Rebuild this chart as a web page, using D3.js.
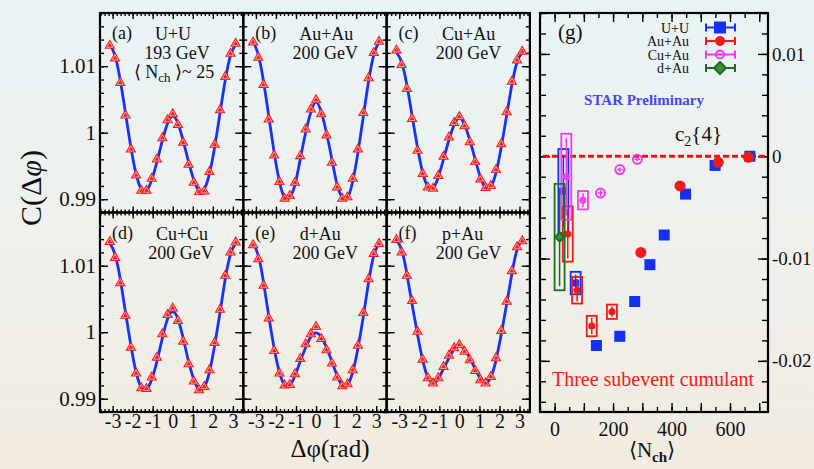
<!DOCTYPE html>
<html>
<head>
<meta charset="utf-8">
<script src="https://cdn.jsdelivr.net/npm/d3@7"></script>
<style>
body { margin: 0; }
svg { display: block; font-family: "Liberation Serif", "Times New Roman", serif; }
</style>
</head>
<body>
<svg id="chart" width="814" height="469"></svg>
<script>
// Delta phi bin centres (rad), shared by all six correlation panels
const dphi = [-3.14, -2.88, -2.62, -2.36, -2.09, -1.83, -1.57, -1.31, -1.05, -0.79, -0.52, -0.26, 0,
              0.26, 0.52, 0.79, 1.05, 1.31, 1.57, 1.83, 2.09, 2.36, 2.62, 2.88, 3.14];

// C(dphi) points (triangles) and fit curve (blue) for each system
const dataUU   = [1.0131, 1.0112, 1.0075, 1.0026, 0.9975, 0.9936, 0.9913, 0.9913, 0.9931, 0.9960, 0.9992, 1.0019, 1.0028, 1.0012, 0.9985, 0.9952, 0.9925, 0.9911, 0.9912, 0.9941, 0.9982, 1.0034, 1.0084, 1.0119, 1.0134];
const fitUU    = [1.0133, 1.0116, 1.0079, 1.0030, 0.9978, 0.9938, 0.9915, 0.99125, 0.9929, 0.9956, 0.9988, 1.0014, 1.0025, 1.0014, 0.9988, 0.9956, 0.9929, 0.99125, 0.9915, 0.9938, 0.9978, 1.0030, 1.0079, 1.0116, 1.0133];
const dataAuAu = [1.0136, 1.0113, 1.0072, 1.0020, 0.9966, 0.9926, 0.9901, 0.9905, 0.9925, 0.9965, 1.0005, 1.0035, 1.0049, 1.0028, 0.9996, 0.9955, 0.9918, 0.9901, 0.9903, 0.9931, 0.9975, 1.0030, 1.0082, 1.0120, 1.0137];
const fitAuAu  = [1.0137, 1.0117, 1.0077, 1.0025, 0.9970, 0.9927, 0.9902, 0.9903, 0.9922, 0.9960, 1.0000, 1.0031, 1.0046, 1.0031, 1.0000, 0.9960, 0.9922, 0.9903, 0.9902, 0.9927, 0.9970, 1.0025, 1.0077, 1.0117, 1.0137];
const dataCuAu = [1.0124, 1.0102, 1.0066, 1.0021, 0.9973, 0.9938, 0.9918, 0.9916, 0.9935, 0.9964, 0.9993, 1.0015, 1.0024, 1.0010, 0.9986, 0.9956, 0.9930, 0.9917, 0.9920, 0.9944, 0.9983, 1.0031, 1.0077, 1.0109, 1.0122];
const fitCuAu  = [1.0121, 1.0106, 1.0072, 1.0026, 0.9978, 0.9940, 0.9919, 0.9917, 0.9933, 0.9960, 0.9989, 1.0012, 1.0022, 1.0012, 0.9989, 0.9960, 0.9933, 0.9917, 0.9919, 0.9940, 0.9978, 1.0026, 1.0072, 1.0106, 1.0121];
const dataCuCu = [1.0136, 1.0112, 1.0074, 1.0025, 0.9977, 0.9938, 0.9916, 0.9915, 0.9932, 0.9962, 0.9997, 1.0026, 1.0036, 1.0017, 0.9986, 0.9952, 0.9926, 0.9913, 0.9918, 0.9943, 0.9984, 1.0034, 1.0085, 1.0120, 1.0135];
const fitCuCu  = [1.0134, 1.0117, 1.0080, 1.0030, 0.9980, 0.9940, 0.9917, 0.9914, 0.9929, 0.9956, 0.9991, 1.0020, 1.0031, 1.0020, 0.9991, 0.9956, 0.9929, 0.9914, 0.9917, 0.9940, 0.9980, 1.0030, 1.0080, 1.0117, 1.0134];
const dataDAu  = [1.0131, 1.0110, 1.0070, 1.0021, 0.9972, 0.9938, 0.9920, 0.9921, 0.9937, 0.9960, 0.9982, 0.9997, 1.0008, 0.9990, 0.9973, 0.9953, 0.9932, 0.9919, 0.9922, 0.9943, 0.9980, 1.0029, 1.0080, 1.0118, 1.0133];
const fitDAu   = [1.0134, 1.0115, 1.0075, 1.0024, 0.9976, 0.9940, 0.9921, 0.9920, 0.9935, 0.9956, 0.9977, 0.9993, 0.9999, 0.9993, 0.9977, 0.9956, 0.9935, 0.9920, 0.9921, 0.9940, 0.9976, 1.0024, 1.0075, 1.0115, 1.0134];
const dataPAu  = [1.0139, 1.0120, 1.0085, 1.0047, 1.0001, 0.9959, 0.9931, 0.9923, 0.9931, 0.9948, 0.9965, 0.9976, 0.9981, 0.9971, 0.9958, 0.9942, 0.9928, 0.9923, 0.9933, 0.9961, 1.0002, 1.0046, 1.0092, 1.0128, 1.0137];
const fitPAu   = [1.0138, 1.0124, 1.0088, 1.0042, 0.9997, 0.9958, 0.9932, 0.9924, 0.9930, 0.9945, 0.9961, 0.9974, 0.9979, 0.9974, 0.9961, 0.9945, 0.9930, 0.9924, 0.9932, 0.9958, 0.9997, 1.0042, 1.0088, 1.0124, 1.0138];

const xTickLabels = [-3, -2, -1, 0, 1, 2, 3];
const yTickLabels = [0.99, 1, 1.01];

// Panel (g): c2{4} vs <Nch>, three subevent cumulant
const nchUU = [30, 72, 143, 223, 274, 326, 375, 448, 549, 668];
const c24UU = [-0.0034, -0.0124, -0.0185, -0.0176, -0.0142, -0.0106, -0.0077, -0.0037, -0.0009, 0.0000];
const statUU = [0.0035, 0.0008, 0.0004, 0.0004, 0.0002, 0.0002, 0.0002, 0.0002, 0.0002, 0.0002];
const sysUU = [0.0041, 0.0011, 0.0002, 0.0002, 0.0001, 0.0001, 0.0001, 0.0001, 0.0001, 0.0001];

const nchAuAu = [45, 77, 127, 196, 295, 429, 560, 663];
const c24AuAu = [-0.0076, -0.0131, -0.0166, -0.0152, -0.0094, -0.0029, -0.0006, -0.0001];
const statAuAu = [0.0024, 0.0011, 0.0008, 0.0005, 0.0002, 0.0001, 0.0001, 0.0001];
const sysAuAu = [0.0027, 0.0013, 0.0010, 0.0007, 0.0001, 0.0001, 0.0001, 0.0001];

const nchCuAu = [40, 97, 157, 223, 283];
const c24CuAu = [-0.0020, -0.0043, -0.0036, -0.0013, -0.0003];
const statCuAu = [0.0038, 0.0007, 0.0003, 0.0002, 0.0002];
const sysCuAu = [0.0042, 0.0009, 0.0003, 0.0002, 0.0002];

const nchDAu = [17];
const c24DAu = [-0.0079];
const statDAu = [0.0048];
const sysDAu = [0.0052];

const nchTickLabels = [0, 200, 400, 600];
const c24TickLabels = [0.01, 0, -0.01, -0.02];

const svg = d3.select("#chart");

// Background: pale blue on top fading to beige
const defs = svg.append("defs");
const grad = defs.append("linearGradient").attr("id", "bg").attr("x1", 0).attr("y1", 0).attr("x2", 0).attr("y2", 1);
grad.append("stop").attr("offset", "0%").attr("stop-color", "#e9f3f6");
grad.append("stop").attr("offset", "45%").attr("stop-color", "#eef1ed");
grad.append("stop").attr("offset", "100%").attr("stop-color", "#f2ebe1");
svg.append("rect").attr("width", 814).attr("height", 469).attr("fill", "url(#bg)");

// ---------- six C(dphi) panels ----------
const PW = 143.3, PH = 199.5;
const colX = [100, 243.3, 386.6];
const rowY = [13, 212.5];

const panels = [
  { tag: "(a)", name: "U+U",   energy: "193 GeV", data: dataUU,   fit: fitUU,   nx: 73, ex: 77 },
  { tag: "(b)", name: "Au+Au", energy: "200 GeV", data: dataAuAu, fit: fitAuAu, nx: 83, ex: 82 },
  { tag: "(c)", name: "Cu+Au", energy: "200 GeV", data: dataCuAu, fit: fitCuAu, nx: 82, ex: 82 },
  { tag: "(d)", name: "Cu+Cu", energy: "200 GeV", data: dataCuCu, fit: fitCuCu, nx: 82, ex: 81 },
  { tag: "(e)", name: "d+Au",  energy: "200 GeV", data: dataDAu,  fit: fitDAu,  nx: 77, ex: 82 },
  { tag: "(f)", name: "p+Au",  energy: "200 GeV", data: dataPAu,  fit: fitPAu,  nx: 76, ex: 82 }
];

const x = d3.scaleLinear().domain([-3.63, 3.52]).range([0, PW]);
const y = d3.scaleLinear().domain([0.988, 1.018]).range([PH, 0]);

const minorX = d3.range(-18, 18).map(v => v * 0.2);
const minorY = d3.range(494, 510).map(v => v * 0.002);

const fmtX = d => d < 0 ? "-" + Math.abs(d) : String(d);
const fmtY = d => d === 1 ? "1" : d.toFixed(2);

function styleAxis(g, size) {
  g.select(".domain").remove();
  g.selectAll("line").attr("stroke", "#000").attr("stroke-width", 1.4);
  g.selectAll("text").attr("font-family", "'Liberation Serif', serif").attr("font-size", size).attr("fill", "#111");
}

const triangle = d3.symbol().type(d3.symbolTriangle);

panels.forEach((p, i) => {
  const col = i % 3, row = Math.floor(i / 3);
  const g = svg.append("g").attr("transform", `translate(${colX[col]},${rowY[row]})`);

  // ticks on all four sides, pointing inwards
  g.append("g").attr("transform", `translate(0,${PH})`)
    .call(d3.axisBottom(x).tickValues(minorX).tickSize(-3).tickFormat(""))
    .call(a => styleAxis(a, 10));
  g.append("g").attr("transform", `translate(0,${PH})`)
    .call(d3.axisBottom(x).tickValues(xTickLabels).tickSize(-6).tickPadding(2)
      .tickFormat(row === 1 ? fmtX : ""))
    .call(a => styleAxis(a, "20px"));
  g.append("g").call(d3.axisTop(x).tickValues(minorX).tickSize(-3).tickFormat("")).call(a => styleAxis(a, 10));
  g.append("g").call(d3.axisTop(x).tickValues(xTickLabels).tickSize(-6).tickFormat("")).call(a => styleAxis(a, 10));

  g.append("g").call(d3.axisLeft(y).tickValues(minorY).tickSize(-4).tickFormat("")).call(a => styleAxis(a, 10));
  g.append("g").call(d3.axisLeft(y).tickValues(yTickLabels).tickSize(-8).tickPadding(4)
      .tickFormat(col === 0 ? fmtY : ""))
    .call(a => styleAxis(a, "21px"));
  g.append("g").attr("transform", `translate(${PW},0)`)
    .call(d3.axisRight(y).tickValues(minorY).tickSize(-4).tickFormat("")).call(a => styleAxis(a, 10));
  g.append("g").attr("transform", `translate(${PW},0)`)
    .call(d3.axisRight(y).tickValues(yTickLabels).tickSize(-8).tickFormat("")).call(a => styleAxis(a, 10));

  // fit curve
  g.append("path")
    .datum(p.fit)
    .attr("d", d3.line().x((d, k) => x(dphi[k])).y(d => y(d)).curve(d3.curveNatural))
    .attr("fill", "none")
    .attr("stroke", "#1733f5")
    .attr("stroke-width", 2.8);

  // data triangles: filled red with a lighter inner outline
  const pts = g.append("g").selectAll("g").data(p.data).enter().append("g")
    .attr("transform", (d, k) => `translate(${x(dphi[k])},${y(d)})`);
  pts.append("path").attr("d", triangle.size(52)()).attr("fill", "#f21d1d");
  pts.append("path").attr("d", triangle.size(16)()).attr("fill", "none")
    .attr("stroke", "#ffa8a8").attr("stroke-width", 0.9);

  // frame
  g.append("rect").attr("width", PW).attr("height", PH)
    .attr("fill", "none").attr("stroke", "#000").attr("stroke-width", 2.2);

  // labels
  const t = g.append("g").attr("font-size", "18px").attr("fill", "#111");
  t.append("text").attr("x", 12).attr("y", 26).text(p.tag);
  t.append("text").attr("x", p.nx).attr("y", 27).attr("text-anchor", "middle").text(p.name);
  t.append("text").attr("x", p.ex).attr("y", 46).attr("text-anchor", "middle").text(p.energy);
  if (i === 0) {
    const n = t.append("text").attr("x", 74).attr("y", 65).attr("text-anchor", "middle");
    n.append("tspan").text("\u27e8 N");
    n.append("tspan").attr("font-size", "13px").attr("dy", 4).text("ch");
    n.append("tspan").attr("dy", -4).text(" \u27e9~ 25");
  }
});

// axis titles for the six panels
const yt = svg.append("text").attr("transform", "translate(41,188) rotate(-90)")
  .attr("text-anchor", "middle").attr("font-size", "30px").attr("fill", "#111");
yt.append("tspan").text("C(\u0394");
yt.append("tspan").attr("font-style", "italic").text("\u03c6");
yt.append("tspan").text(")");

svg.append("text").attr("x", 330).attr("y", 457).attr("text-anchor", "middle")
  .attr("font-size", "25px").attr("fill", "#111").text("\u0394\u03c6(rad)");

// ---------- panel (g) ----------
const gx0 = 540, gx1 = 768, gy0 = 13, gy1 = 412;
const xn = d3.scaleLinear().domain([-50, 730]).range([gx0, gx1]);
const yc = d3.scaleLinear().domain([-0.025, 0.014]).range([gy1, gy0]);
const G = svg.append("g");

const minorN = d3.range(-1, 15).map(v => v * 50);
const majorN = d3.range(0, 8).map(v => v * 100);
const minorC = d3.range(-12, 8).map(v => v * 0.002);

G.append("g").attr("transform", `translate(0,${gy1})`)
  .call(d3.axisBottom(xn).tickValues(minorN).tickSize(-5).tickFormat("")).call(a => styleAxis(a, 10));
G.append("g").attr("transform", `translate(0,${gy1})`)
  .call(d3.axisBottom(xn).tickValues(majorN).tickSize(-9).tickFormat("")).call(a => styleAxis(a, 10));
G.append("g").attr("transform", `translate(0,${gy1})`)
  .call(d3.axisBottom(xn).tickValues(nchTickLabels).tickSize(0).tickPadding(10).tickFormat(d3.format("d")))
  .call(a => styleAxis(a, "20px"));
G.append("g").attr("transform", `translate(0,${gy0})`)
  .call(d3.axisTop(xn).tickValues(minorN).tickSize(-5).tickFormat("")).call(a => styleAxis(a, 10));
G.append("g").attr("transform", `translate(0,${gy0})`)
  .call(d3.axisTop(xn).tickValues(majorN).tickSize(-9).tickFormat("")).call(a => styleAxis(a, 10));
G.append("g").attr("transform", `translate(${gx0},0)`)
  .call(d3.axisLeft(yc).tickValues(minorC).tickSize(-6).tickFormat("")).call(a => styleAxis(a, 10));
G.append("g").attr("transform", `translate(${gx0},0)`)
  .call(d3.axisLeft(yc).tickValues(c24TickLabels).tickSize(-10).tickFormat("")).call(a => styleAxis(a, 10));
G.append("g").attr("transform", `translate(${gx1},0)`)
  .call(d3.axisRight(yc).tickValues(minorC).tickSize(-6).tickFormat("")).call(a => styleAxis(a, 10));
G.append("g").attr("transform", `translate(${gx1},0)`)
  .call(d3.axisRight(yc).tickValues(c24TickLabels).tickSize(-10).tickPadding(4)
    .tickFormat(d => d === 0 ? "0" : (d < 0 ? "-" : "") + Math.abs(d).toFixed(2)))
  .call(a => styleAxis(a, "19px"));

// c2{4} = 0 reference line
G.append("line").attr("x1", gx0 + 3).attr("x2", gx1).attr("y1", yc(0)).attr("y2", yc(0))
  .attr("stroke", "#f21212").attr("stroke-width", 3).attr("stroke-dasharray", "6,3");

const series = [
  { name: "U+U",   n: nchUU,   c: c24UU,   stat: statUU,   sys: sysUU,   color: "#1530f2", shape: "square" },
  { name: "Au+Au", n: nchAuAu, c: c24AuAu, stat: statAuAu, sys: sysAuAu, color: "#f01a1a", shape: "circle" },
  { name: "Cu+Au", n: nchCuAu, c: c24CuAu, stat: statCuAu, sys: sysCuAu, color: "#f03cf0", shape: "open" },
  { name: "d+Au",  n: nchDAu,  c: c24DAu,  stat: statDAu,  sys: sysDAu,  color: "#1d6e1d", shape: "diamond" }
];

function drawMarker(sel, s, size) {
  if (s.shape === "square") {
    sel.append("rect").attr("x", -size / 2).attr("y", -size / 2).attr("width", size).attr("height", size)
      .attr("fill", s.color);
  } else if (s.shape === "circle") {
    sel.append("circle").attr("r", size / 2).attr("fill", s.color);
  } else if (s.shape === "open") {
    sel.append("circle").attr("r", size / 2 - 1).attr("fill", "none").attr("stroke", s.color).attr("stroke-width", 2);
    sel.append("line").attr("x1", -size / 4).attr("x2", size / 4).attr("stroke", s.color).attr("stroke-width", 1.5);
  } else {
    const r = size / 2 + 1;
    sel.append("path").attr("d", `M0,${-r}L${r},0L0,${r}L${-r},0Z`)
      .attr("fill", "#3f8f3f").attr("stroke", s.color).attr("stroke-width", 2);
  }
}

series.forEach(s => {
  const sg = G.append("g");
  s.n.forEach((n, k) => {
    const cx = xn(n), cy = yc(s.c[k]);
    const boxed = s.sys[k] > 0.0005;
    // stat error bar
    sg.append("line").attr("x1", cx).attr("x2", cx)
      .attr("y1", yc(s.c[k] + s.stat[k])).attr("y2", yc(s.c[k] - s.stat[k]))
      .attr("stroke", s.color).attr("stroke-width", 1.5);
    const m = sg.append("g").attr("transform", `translate(${cx},${cy})`);
    drawMarker(m, s, boxed ? 7 : 11);
    // systematic box
    if (boxed) {
      sg.append("rect").attr("x", cx - 5).attr("width", 10)
        .attr("y", yc(s.c[k] + s.sys[k])).attr("height", yc(s.c[k] - s.sys[k]) - yc(s.c[k] + s.sys[k]))
        .attr("fill", "none").attr("stroke", s.color).attr("stroke-width", 1.8);
    }
  });
});

// frame of (g)
G.append("rect").attr("x", gx0).attr("y", gy0).attr("width", gx1 - gx0).attr("height", gy1 - gy0)
  .attr("fill", "none").attr("stroke", "#000").attr("stroke-width", 2.2);

// legend
series.forEach((s, k) => {
  const ly = 27.5 + k * 13.5;
  G.append("text").attr("x", 689).attr("y", ly + 5).attr("text-anchor", "end")
    .attr("font-size", "14px").attr("fill", "#111").text(s.name);
  G.append("line").attr("x1", 706).attr("x2", 735).attr("y1", ly).attr("y2", ly)
    .attr("stroke", s.color).attr("stroke-width", 2);
  [706, 735].forEach(ex => G.append("line").attr("x1", ex).attr("x2", ex).attr("y1", ly - 4).attr("y2", ly + 4)
    .attr("stroke", s.color).attr("stroke-width", 2));
  const m = G.append("g").attr("transform", `translate(720,${ly})`);
  drawMarker(m, s, s.shape === "square" ? 12 : 10);
});

G.append("text").attr("x", 558).attr("y", 39).attr("font-size", "21px").attr("fill", "#111").text("(g)");
G.append("text").attr("x", 644).attr("y", 105).attr("text-anchor", "middle")
  .attr("font-size", "15px").attr("font-weight", "bold").attr("fill", "#4646f0").text("STAR Preliminary");
const c2 = G.append("text").attr("x", 675).attr("y", 141).attr("font-size", "21px").attr("fill", "#111");
c2.append("tspan").text("c");
c2.append("tspan").attr("font-size", "14px").attr("dy", 5).text("2");
c2.append("tspan").attr("dy", -5).text("{4}");
G.append("text").attr("x", 653).attr("y", 386).attr("text-anchor", "middle")
  .attr("font-size", "20px").attr("fill", "#f21a1a").text("Three subevent cumulant");

const nt = G.append("text").attr("x", 652).attr("y", 457).attr("text-anchor", "middle")
  .attr("font-size", "21px").attr("fill", "#111");
nt.append("tspan").text("\u27e8N");
nt.append("tspan").attr("font-size", "15px").attr("font-weight", "bold").attr("dy", 5).text("ch");
nt.append("tspan").attr("dy", -5).text("\u27e9");
</script>
</body>
</html>
